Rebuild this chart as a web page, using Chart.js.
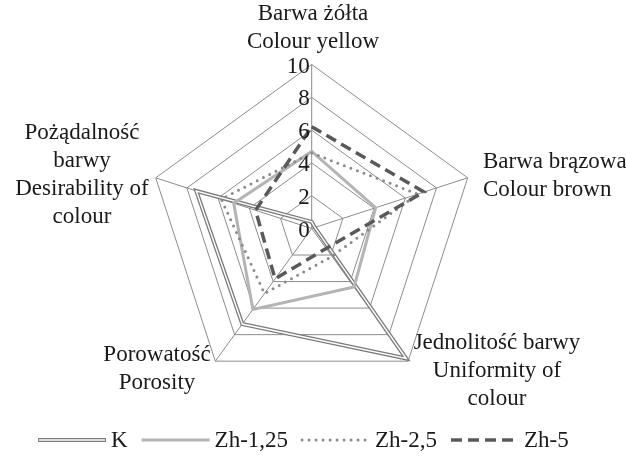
<!DOCTYPE html>
<html>
<head>
<meta charset="utf-8">
<script src="https://cdn.jsdelivr.net/npm/chart.js@4.4.1/dist/chart.umd.min.js"></script>
<style>
    html, body { margin: 0; padding: 0; background: #fff; }
    #wrap { width: 626px; height: 459px; position: relative; }
</style>
</head>
<body>
<div id="wrap"><canvas id="radar" width="626" height="459"></canvas></div>
<script>
/* ============================================================
   DATA
============================================================ */

const axisLabels = [
    ["Barwa żółta", "Colour yellow"],
    ["Barwa brązowa", "Colour brown"],
    ["Jednolitość barwy", "Uniformity of", "colour"],
    ["Porowatość", "Porosity"],
    ["Pożądalność", "barwy", "Desirability of", "colour"]
];

const seriesNames = ["K", "Zh-1,25", "Zh-2,5", "Zh-5"];

const kValues     = [0.4, 0.2, 9.8, 7.2, 7.4];
const zh125Values = [4.7, 4.1, 4.4, 6.1, 5.0];
const zh25Values  = [4.6, 6.8, 2.1, 4.9, 5.8];
const zh5Values   = [6.2, 7.2, 1.5, 3.8, 3.6];

const tickValues = [0, 2, 4, 6, 8, 10];


/* ============================================================
   LAYOUT / STYLE
============================================================ */

const FONT = "23px 'Liberation Serif', serif";
const TEXT = "#1a1a1a";
const GRID = "#8c8c8c";

const center = { x: 311.7, y: 228.5, r: 164 };

// anchor x, first-line y and alignment of each axis title
const labelPos = [
    { x: 313, y: 14,  align: "center" },
    { x: 483, y: 162, align: "left" },
    { x: 497, y: 343, align: "center" },
    { x: 157, y: 355, align: "center" },
    { x: 82,  y: 133, align: "center" }
];
const LINE_H = 28;

const legendY = 440;
const legendX0 = 38;
const sampleLen = 68;


/* ============================================================
   PLUGINS
============================================================ */

// pin the radar to the reference centre and radius
const fixGeometry = {
    id: "fixGeometry",
    afterLayout(chart) {
        const r = chart.scales.r;
        r.xCenter = center.x;
        r.yCenter = center.y;
        r.drawingArea = center.r;
    }
};

// tick labels left of the vertical axis, axis titles, legend
const textLayer = {
    id: "textLayer",
    afterDraw(chart) {
        const ctx = chart.ctx;
        const r = chart.scales.r;
        ctx.save();
        ctx.font = FONT;
        ctx.fillStyle = TEXT;

        // ticks
        ctx.textAlign = "right";
        ctx.textBaseline = "middle";
        tickValues.forEach(v => {
            const p = r.getPointPositionForValue(0, v);
            ctx.fillText(String(v), p.x - 2, p.y + 2);
        });

        // axis titles
        axisLabels.forEach((lines, i) => {
            ctx.textAlign = labelPos[i].align;
            lines.forEach((t, j) => {
                ctx.fillText(t, labelPos[i].x, labelPos[i].y + j * LINE_H);
            });
        });

        // legend
        ctx.textAlign = "left";
        let x = legendX0;
        chart.data.datasets.filter(d => d.inLegend).forEach(d => {
            ctx.save();
            ctx.strokeStyle = d.borderColor;
            ctx.lineWidth = d.borderWidth;
            ctx.setLineDash(d.borderDash || []);
            ctx.lineCap = d.borderCapStyle || "butt";
            ctx.beginPath();
            ctx.moveTo(x, legendY);
            ctx.lineTo(x + sampleLen, legendY);
            ctx.stroke();
            if (d.label === "K") {
                ctx.strokeStyle = "#fff";
                ctx.lineWidth = 1.4;
                ctx.beginPath();
                ctx.moveTo(x + 1, legendY);
                ctx.lineTo(x + sampleLen - 1, legendY);
                ctx.stroke();
            }
            ctx.restore();
            x += sampleLen + 5;
            ctx.fillText(d.label, x, legendY + 1);
            x += ctx.measureText(d.label).width + 14;
        });

        ctx.restore();
    }
};


/* ============================================================
   CHART
============================================================ */

const lineBase = { fill: false, pointRadius: 0, pointHoverRadius: 0, tension: 0 };

function draw() {
    new Chart(document.getElementById("radar"), {
        type: "radar",
        data: {
            labels: axisLabels,
            datasets: [
                { ...lineBase, label: seriesNames[0], inLegend: true, data: kValues,
                  borderColor: "#7a7a7a", borderWidth: 4, order: 6 },
                { ...lineBase, label: "K-inner", data: kValues,
                  borderColor: "#ffffff", borderWidth: 1.4, order: 5 },
                { ...lineBase, label: seriesNames[1], inLegend: true, data: zh125Values,
                  borderColor: "#b4b4b4", borderWidth: 3, order: 4 },
                { ...lineBase, label: seriesNames[2], inLegend: true, data: zh25Values,
                  borderColor: "#8a8a8a", borderWidth: 3, borderDash: [0, 7],
                  borderCapStyle: "round", order: 3 },
                { ...lineBase, label: seriesNames[3], inLegend: true, data: zh5Values,
                  borderColor: "#595959", borderWidth: 3.5, borderDash: [11, 6], order: 2 }
            ]
        },
        options: {
            responsive: false,
            animation: false,
            events: [],
            plugins: { legend: { display: false }, tooltip: { enabled: false } },
            scales: {
                r: {
                    min: 0,
                    max: 10,
                    ticks: { stepSize: 2, display: false },
                    grid: { color: GRID, lineWidth: 1 },
                    angleLines: { color: GRID, lineWidth: 1 },
                    pointLabels: { display: false }
                }
            }
        },
        plugins: [fixGeometry, textLayer]
    });
}

document.fonts.load(FONT).then(draw, draw);
</script>
</body>
</html>
